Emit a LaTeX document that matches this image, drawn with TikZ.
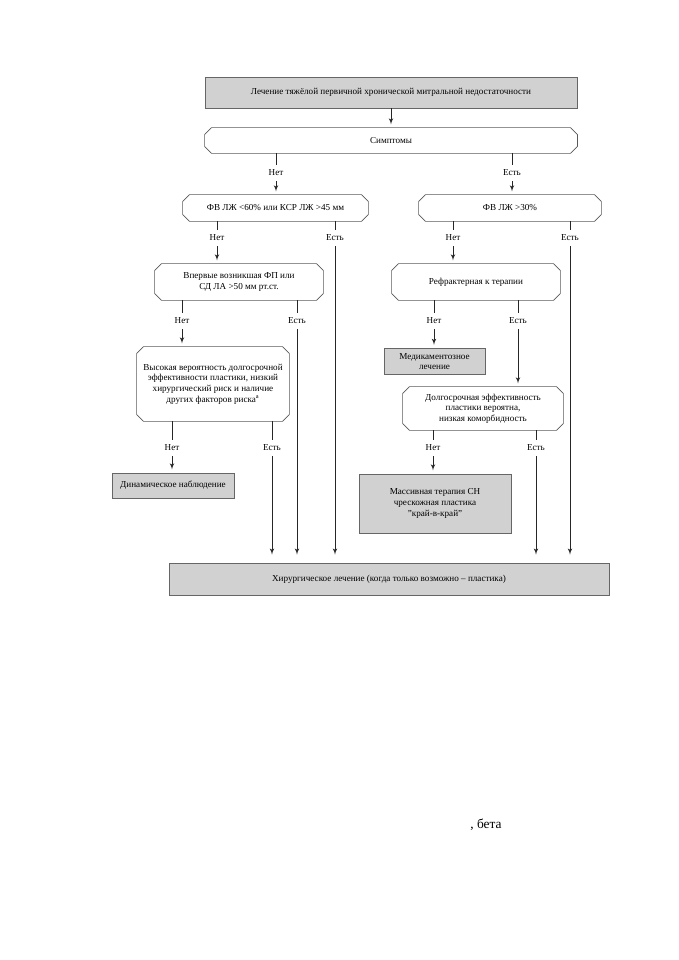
\documentclass[tikz,border=0pt]{standalone}
\usepackage{fontspec}
\setmainfont{Liberation Serif}
\usetikzlibrary{shapes,arrows,positioning,calc}

\tikzstyle{line} = [draw, color=black!85, -latex', shorten >=0.08cm]
\tikzstyle{link} = [draw, color=black!85]
\tikzstyle{lbl} = [inner sep=3.5pt, font=\fontsize{6.5}{7.6}\selectfont]
\newcommand{\cut}{0.17cm}

\begin{document}
\begin{tikzpicture}[x=0.025cm, y=-0.025cm, line width=0.5pt]
\tikzset{block/.style={rectangle, draw=black!60, fill=black!18, align=center, font=\fontsize{6.5}{7.6}\selectfont}}
\tikzset{ask/.style={rectangle, fill=white, align=center, font=\fontsize{6.5}{7.6}\selectfont}}
\tikzset{askline/.style={draw=black!65}}

\useasboundingbox (0,0) rectangle (678,960);

\node [block, minimum width=9.3cm, minimum height=0.775cm] (tr) at (391,92.5) {Лечение тяжёлой первичной хронической митральной недостаточности};
\node [ask, minimum width=9.3cm, minimum height=0.625cm] (sym) at (391,140.5) {Симптомы};
\path [line] (tr) -- (sym);

\node [ask, minimum width=4.625cm, minimum height=0.65cm] (fv1) at (275.5,208) {ФВ ЛЖ <60\% или КСР ЛЖ >45 мм};
\node [ask, minimum width=4.55cm, minimum height=0.65cm] (fv2) at (510,208) {ФВ ЛЖ >30\%};
\node [ask, minimum width=4.2cm, minimum height=0.9cm] (fp) at (239,282) {Впервые возникшая ФП или\\ СД ЛА >50 мм рт.ст.};
\node [ask, minimum width=4.2cm, minimum height=0.9cm] (rf) at (476,282) {Рефрактерная к терапии};
\node [ask, minimum width=3.8cm, minimum height=1.85cm] (hv) at (213,384) {Высокая вероятность долгосрочной\\ эффективности пластики, низкий\\ хирургический риск и наличие\\ других факторов риска\textsuperscript{a}};
\node [block, minimum width=2.525cm, minimum height=0.625cm] (med) at (434.5,361.5) {Медикаментозное\\ лечение};
\node [ask, minimum width=4cm, minimum height=1.075cm] (dl) at (483,408.5) {Долгосрочная эффективность\\ пластики вероятна,\\ низкая коморбидность};
\node [block, minimum width=3.05cm, minimum height=0.625cm] (dyn) at (173,485.5) {Динамическое наблюдение};
\node [block, minimum width=3.8cm, minimum height=1.475cm] (mt) at (435,503.5) {Массивная терапия СН\\ чрескожная пластика\\ ''край-в-край''};
\node [block, minimum width=11cm, minimum height=0.8cm] (sur) at (389,579) {Хирургическое лечение (когда только возможно -- пластика)};

% chamfered outlines of the question boxes
\foreach \n in {sym,fv1,fv2,fp,rf,hv,dl}
  \draw [askline] ($(\n.north west)+(\cut,0)$) -- ($(\n.north east)+(-\cut,0)$)
    -- ($(\n.north east)+(0,-\cut)$) -- ($(\n.south east)+(0,\cut)$)
    -- ($(\n.south east)+(-\cut,0)$) -- ($(\n.south west)+(\cut,0)$)
    -- ($(\n.south west)+(0,\cut)$) -- ($(\n.north west)+(0,-\cut)$) -- cycle;

% labels
\node [lbl] (sn) at (276,173) {Нет};
\node [lbl] (se) at (512,173) {Есть};
\node [lbl] (an) at (217,238) {Нет};
\node [lbl] (ae) at (335,238) {Есть};
\node [lbl] (bn) at (453,238) {Нет};
\node [lbl] (be) at (570,238) {Есть};
\node [lbl] (cn) at (182,321) {Нет};
\node [lbl] (ce) at (297,321) {Есть};
\node [lbl] (dn) at (434,321) {Нет};
\node [lbl] (de) at (518,321) {Есть};
\node [lbl] (hn) at (172,448) {Нет};
\node [lbl] (he) at (272,448) {Есть};
\node [lbl] (ln) at (433,448) {Нет};
\node [lbl] (le) at (536,448) {Есть};

\draw [link] (sym.south -| sn) -- (sn);
\draw [link] (sym.south -| se) -- (se);
\path [line] (sn) -- (fv1.north -| sn);
\path [line] (se) -- (fv2.north -| se);

\draw [link] (fv1.south -| an) -- (an);
\draw [link] (fv1.south -| ae) -- (ae);
\draw [link] (fv2.south -| bn) -- (bn);
\draw [link] (fv2.south -| be) -- (be);
\path [line] (an) -- (fp.north -| an);
\path [line] (bn) -- (rf.north -| bn);

\draw [link] (fp.south -| cn) -- (cn);
\draw [link] (fp.south -| ce) -- (ce);
\draw [link] (rf.south -| dn) -- (dn);
\draw [link] (rf.south -| de) -- (de);
\path [line] (cn) -- (hv.north -| cn);
\path [line] (dn) -- (med.north -| dn);
\path [line] (de) -- (dl.north -| de);

\draw [link] (hv.south -| hn) -- (hn);
\draw [link] (hv.south -| he) -- (he);
\draw [link] (dl.south -| ln) -- (ln);
\draw [link] (dl.south -| le) -- (le);
\path [line] (hn) -- (dyn.north -| hn);
\path [line] (ln) -- (mt.north -| ln);

\path [line, shorten >=0.2cm] (he) -- (sur.north -| he);
\path [line, shorten >=0.2cm] (ce) -- (sur.north -| ce);
\path [line, shorten >=0.2cm] (ae) -- (sur.north -| ae);
\path [line, shorten >=0.2cm] (le) -- (sur.north -| le);
\path [line, shorten >=0.2cm] (be) -- (sur.north -| be);

\node [font=\fontsize{9.5}{11}\selectfont] (beta) at (486,825) {, бета};
\end{tikzpicture}
\end{document}
